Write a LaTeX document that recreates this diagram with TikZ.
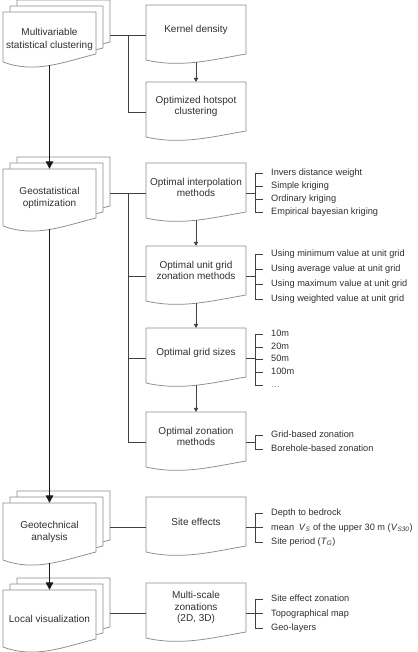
\documentclass[tikz,border=0pt]{standalone}
\usepackage{fontspec}
\setmainfont{Liberation Sans}
\usetikzlibrary{arrows.meta,calc}
\pgfdeclarelayer{bg}
\pgfsetlayers{bg,main}

\definecolor{outline}{HTML}{8C8C8C}
\definecolor{linkc}{HTML}{404040}
\definecolor{ink}{HTML}{303030}

\tikzset{
  docline/.style={draw=outline, line width=0.75pt, fill=white, line join=round},
  mbox/.style={rectangle, draw=none, inner sep=0pt, minimum width=100pt, minimum height=60pt},
  lbox/.style={rectangle, draw=none, inner sep=0pt, minimum width=93pt, minimum height=#1},
  lbox/.default=60pt,
  mtext/.style={align=center, text=ink, inner sep=0pt, font=\fontsize{10}{11.5}\selectfont},
  ltext/.style={align=center, text=ink, inner sep=0pt, font=\fontsize{10}{12.5}\selectfont},
  item/.style={anchor=west, text=ink, inner xsep=8pt, inner ysep=0pt,
    text height=7pt, text depth=2pt, font=\fontsize{9.2}{11}\selectfont},
  conn/.style={draw=linkc, line width=0.9pt},
  smallarrow/.style={conn, -{Triangle[length=4pt,width=4.5pt]}},
  mainarrow/.style={draw=black!90, line width=1.3pt, -{Triangle[length=7.5pt,width=7.5pt]}},
}

% document outline, 100 wide, top-left corner given
\newcommand\middoc[2]{%
  \draw[docline] (#1,#2) -- ({#1+100},#2) -- ({#1+100},{#2+49})
    .. controls ({#1+65},{#2+55}) and ({#1+35},{#2+63}) .. (#1,{#2+55}) -- cycle;}
% document outline, 93 wide, top-left corner given, #3 = height reduction
\newcommand\leftdoc[3]{%
  \draw[docline] (#1,#2) -- ({#1+93},#2) -- ({#1+93},{#2+49-#3})
    .. controls ({#1+60.5},{#2+57-#3}) and ({#1+32.5},{#2+69-#3}) .. (#1,{#2+57-#3}) -- cycle;}

% single document box: name, x, y, text
\newcommand\midbox[4]{%
  \begin{pgfonlayer}{bg}\middoc{#2}{#3}\end{pgfonlayer}
  \node[mbox] (#1) at ({#2+50},{#3+30}) {};
  \node[mtext] (#1-t) at ({#2+50},{#3+24.5}) {#4};}

% stacked documents: [height reduction], name, x, y, text
\newcommand\stackbox[5][0]{%
  \begin{pgfonlayer}{bg}\leftdoc{#3+14}{#4-12}{#1}\leftdoc{#3+7}{#4-6}{#1}\leftdoc{#3}{#4}{#1}\end{pgfonlayer}
  \node[lbox={60pt-#1pt}] (#2) at ({#3+46.5},{#4+30-#1/2}) {};
  \node[lbox] (#2-back) at ({#3+60.5},{#4+18}) {};
  \node[ltext] (#2-t) at ({#3+46.5},{#4+29-#1/4}) {#5};}

% bracket list beside a box: box name, number of items
\newcommand\bracketlist[2]{%
  \coordinate (#1-br) at ([xshift=9pt]#1.east);
  \draw[conn] (#1.east) -- (#1-br);
  \draw[conn] (#1-1.west -| #1-br) -- (#1-#2.west -| #1-br);
  \foreach \k in {1,...,#2} {\draw[conn] (#1-\k.west -| #1-br) -- (#1-\k.west);}}

\begin{document}
\begin{tikzpicture}[x=1pt,y=-1pt]
\begin{pgfonlayer}{bg}
  \fill[white] (0,0) rectangle (417,652);
\end{pgfonlayer}
\useasboundingbox (0,0) rectangle (417,652);

% left column
\stackbox[7]{mvsc}{3}{12}{Multivariable\\statistical clustering}
\stackbox{gso}{3}{169}{Geostatistical\\optimization}
\stackbox{gta}{3}{503}{Geotechnical\\analysis}
\stackbox{lv}{3}{590}{Local visualization}

% middle column
\midbox{kd}{146}{5}{Kernel density}
\midbox{hs}{146}{82}{Optimized hotspot\\clustering}
\midbox{interp}{146}{163}{Optimal interpolation\\methods}
\midbox{ug}{146}{246}{Optimal unit grid\\zonation methods}
\midbox{gsz}{146}{328}{Optimal grid sizes}
\midbox{oz}{146}{412}{Optimal zonation\\methods}
\midbox{se}{146}{497}{Site effects}
\midbox{msz}{146}{583}{Multi-scale\\zonations\\(2D, 3D)}

% item lists
\node[item] (interp-1) at (263,173) {Invers distance weight};
\node[item] (interp-2) at (263,186) {Simple kriging};
\node[item] (interp-3) at (263,199) {Ordinary kriging};
\node[item] (interp-4) at (263,212) {Empirical bayesian kriging};

\node[item] (ug-1) at (263,254) {Using minimum value at unit grid};
\node[item] (ug-2) at (263,269) {Using average value at unit grid};
\node[item] (ug-3) at (263,284) {Using maximum value at unit grid};
\node[item] (ug-4) at (263,299) {Using weighted value at unit grid};

\node[item] (gsz-1) at (263,334) {10m};
\node[item] (gsz-2) at (263,347) {20m};
\node[item] (gsz-3) at (263,359) {50m};
\node[item] (gsz-4) at (263,372) {100m};
\node[item, text=black!45] (gsz-5) at (263,385) {…};

\node[item] (oz-1) at (263,435) {Grid-based zonation};
\node[item] (oz-2) at (263,449) {Borehole-based zonation};

\node[item] (se-1) at (263,513) {Depth to bedrock};
\node[item] (se-2) at (263,527.5) {mean\enspace\textit{V}\textsubscript{\textit{S}} of the upper 30 m (\textit{V}\textsubscript{\textit{S30}})};
\node[item] (se-3) at (263,542) {Site period (\textit{T}\textsubscript{\textit{G}})};

\node[item] (msz-1) at (263,599) {Site effect zonation};
\node[item] (msz-2) at (263,613.5) {Topographical map};
\node[item] (msz-3) at (263,628) {Geo-layers};

\bracketlist{interp}{4}
\bracketlist{ug}{4}
\bracketlist{gsz}{5}
\bracketlist{oz}{2}
\bracketlist{se}{3}
\bracketlist{msz}{3}

% links from the stacked documents to the method boxes
\draw[conn] (kd.west -| mvsc-back.east) -- (kd.west);
\coordinate (j1) at ($(kd.west -| mvsc-back.east)!0.5!(kd.west)$);
\draw[conn] (j1) |- (hs.west);

\draw[conn] (interp.west -| gso-back.east) -- (interp.west);
\coordinate (j2) at ($(interp.west -| gso-back.east)!0.5!(interp.west)$);
\draw[conn] (j2) |- (oz.west);
\draw[conn] (ug.west -| j2) -- (ug.west);
\draw[conn] (gsz.west -| j2) -- (gsz.west);

\draw[conn] (se.west -| gta-back.east) -- (se.west);
\draw[conn] (msz.west -| lv-back.east) -- (msz.west);

% sequence within the method column
\draw[smallarrow] ([yshift=2.75pt]kd.south) -- (hs.north);
\draw[smallarrow] ([yshift=2.75pt]interp.south) -- (ug.north);
\draw[smallarrow] ([yshift=2.75pt]ug.south) -- (gsz.north);
\draw[smallarrow] ([yshift=2.75pt]gsz.south) -- (oz.north);

% main workflow
\draw[mainarrow] (mvsc.south) -- (gso.north);
\draw[mainarrow] (gso.south) -- (gta.north);
\draw[mainarrow] (gta.south) -- (lv.north);
\end{tikzpicture}
\end{document}
